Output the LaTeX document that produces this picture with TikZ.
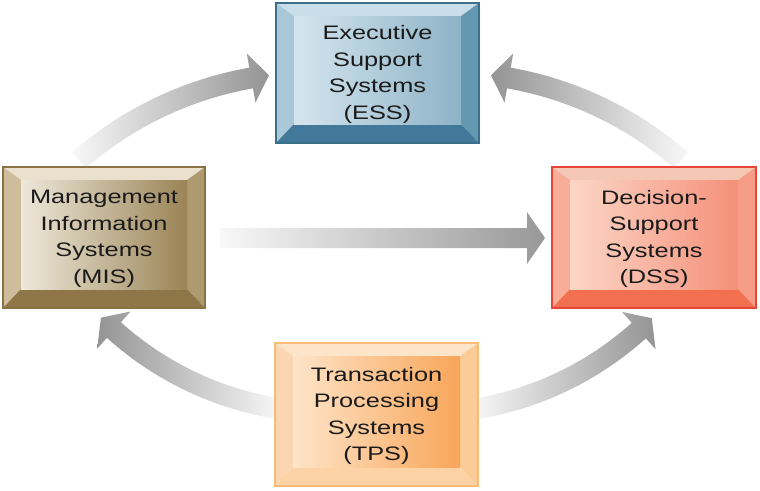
\documentclass[tikz,border=0pt]{standalone}
\usepackage{fontspec}
\newfontfamily\boxfont[FakeStretch=1.3]{Liberation Sans}
\usetikzlibrary{calc}

\definecolor{ess-top}{HTML}{C9DEE9}\definecolor{ess-left}{HTML}{A9C8D8}
\definecolor{ess-right}{HTML}{6497B0}\definecolor{ess-bot}{HTML}{42799A}
\definecolor{ess-fl}{HTML}{D5E5EE}\definecolor{ess-fr}{HTML}{8DB3C7}
\definecolor{ess-bd}{HTML}{3B708C}
\definecolor{mis-top}{HTML}{E9E0CD}\definecolor{mis-left}{HTML}{CDBD9B}
\definecolor{mis-right}{HTML}{AE9A6F}\definecolor{mis-bot}{HTML}{8E7648}
\definecolor{mis-fl}{HTML}{EEE8DA}\definecolor{mis-fr}{HTML}{9A8456}
\definecolor{mis-bd}{HTML}{8A7244}
\definecolor{dss-top}{HTML}{F5C8B6}\definecolor{dss-left}{HTML}{F7AD97}
\definecolor{dss-right}{HTML}{F59D86}\definecolor{dss-bot}{HTML}{F2704F}
\definecolor{dss-fl}{HTML}{FCD6C6}\definecolor{dss-fr}{HTML}{F4907A}
\definecolor{dss-bd}{HTML}{E8453A}
\definecolor{tps-top}{HTML}{FDE5CA}\definecolor{tps-left}{HTML}{FCD6B0}
\definecolor{tps-right}{HTML}{FBCB98}\definecolor{tps-bot}{HTML}{FDD3A5}
\definecolor{tps-fl}{HTML}{FEE4C8}\definecolor{tps-fr}{HTML}{F8A65A}
\definecolor{tps-bd}{HTML}{F8BC78}
\definecolor{arrowlight}{HTML}{F8F8F8}
\definecolor{arrowdark}{HTML}{949494}
\definecolor{arrowmid}{HTML}{989898}
\definecolor{textcol}{HTML}{1A1A1A}

\tikzset{
  boxtext/.style={font=\boxfont\fontsize{19.5}{26.5}\selectfont, align=center,
    inner sep=0pt, text=textcol},
  toright/.style={left color=arrowlight, right color=arrowdark},
  toleft/.style={left color=arrowdark, right color=arrowlight},
}

% #1 prefix, #2 x0, #3 y0, #4 x1, #5 y1, #6 text
\newcommand\bevelbox[6]{%
  \fill[#1-top] (#2,#3) -- (#4,#3) -- (#4-18,#3+13) -- (#2+18,#3+13) -- cycle;
  \fill[#1-left] (#2,#3) -- (#2+18,#3+13) -- (#2+18,#5-19) -- (#2,#5) -- cycle;
  \fill[#1-right] (#4,#3) -- (#4,#5) -- (#4-18,#5-19) -- (#4-18,#3+13) -- cycle;
  \fill[#1-bot] (#2,#5) -- (#2+18,#5-19) -- (#4-18,#5-19) -- (#4,#5) -- cycle;
  \shade[left color=#1-fl, right color=#1-fr] (#2+18,#3+13) rectangle (#4-18,#5-19);
  \draw[#1-bd, line width=1.2pt] (#2,#3) rectangle (#4,#5);
  \node[boxtext] (#1) at ({(#2+#4)/2},{(#3+#5)/2+1.5}) {#6};
}

% #1 centre coordinate, #2 radius, #3 tail angle, #4 head angle, #5 head angular length, #6 shading style
\newcommand\arcarrow[6]{%
  \shade[#6]
    ($(#1)+(#3:#2+10.5)$) arc[start angle=#3, end angle=#4, radius=#2+10.5]
    -- ($(#1)+(#4:#2+25)$) -- ($(#1)+(#4+#5:#2)$) -- ($(#1)+(#4:#2-25)$)
    -- ($(#1)+(#4:#2-10.5)$) arc[start angle=#4, end angle=#3, radius=#2-10.5]
    -- cycle;
}

\begin{document}
\begin{tikzpicture}[x=1pt, y=-1pt]
\useasboundingbox (0,0) rectangle (760,490);

% centres of the curved connectors
\coordinate (c1) at (313.1,429.6);
\coordinate (c2) at (446.9,429.6);
\coordinate (c3) at (328.7,91.5);
\coordinate (c4) at (424,92);

% connectors (drawn under the boxes)
\arcarrow{c1}{357}{229}{260}{2.9}{toright}
\arcarrow{c2}{357}{311}{280}{-2.9}{toleft}
\arcarrow{c3}{321}{99}{132}{3.2}{toleft}
\arcarrow{c4}{321}{81}{48}{-3.2}{toright}
\shade[left color=arrowlight, right color=arrowmid]
  (220,228) -- (527,228) -- (527,212) -- (545,238) -- (527,264) -- (527,248) -- (220,248) -- cycle;

% boxes
\bevelbox{ess}{276}{3}{479}{143}{Executive\\Support\\Systems\\(ESS)}
\bevelbox{mis}{3}{167}{205}{308}{Management\\Information\\Systems\\(MIS)}
\bevelbox{dss}{552}{167}{756}{308}{Decision-\\Support\\Systems\\(DSS)}
\bevelbox{tps}{275}{343}{478}{486}{Transaction\\Processing\\Systems\\(TPS)}
\end{tikzpicture}
\end{document}
